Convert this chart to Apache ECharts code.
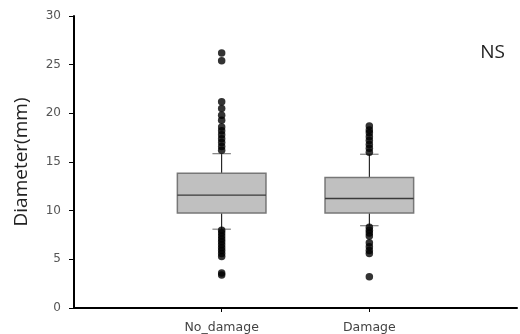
<!DOCTYPE html>
<html>
<head>
<meta charset="utf-8">
<script src="https://cdn.jsdelivr.net/npm/echarts@6/dist/echarts.min.js"></script>
<style>html,body{margin:0;padding:0;background:#fff}#c{width:520px;height:334px}</style>
</head>
<body>
<div id="c"></div>
<script>
// Categories (padding slots at both ends so groups sit at 1/3 and 2/3 of the axis)
var categories = ['', 'No_damage', 'Damage', ''];
var groups = ['No_damage', 'Damage'];
// Box statistics: [lower whisker, Q1, median, Q3, upper whisker]
var noDamageBox = [8.1, 9.75, 11.6, 13.85, 15.85];
var damageBox = [8.45, 9.75, 11.25, 13.4, 15.8];
// Outliers
var noDamageOutliers = [26.2, 25.4, 21.2, 20.5, 19.8, 19.3, 18.6, 18.2, 17.8, 17.4, 17.0, 16.6, 16.2,
  8.0, 7.7, 7.4, 7.1, 6.8, 6.5, 6.2, 5.9, 5.6, 5.3, 3.6, 3.4];
var damageOutliers = [18.7, 18.3, 18.0, 17.6, 17.2, 16.8, 16.4, 16.0,
  8.3, 8.0, 7.7, 7.4, 6.7, 6.3, 5.9, 5.6, 3.2];
var yTicks = [0, 5, 10, 15, 20, 25, 30];

var boxes = [noDamageBox, damageBox];
var outliers = [noDamageOutliers, damageOutliers];
var boxData = groups.map(function (g, i) {
  return [categories.indexOf(g)].concat(boxes[i]);
});
var outlierData = [];
groups.forEach(function (g, i) {
  outliers[i].forEach(function (v) { outlierData.push([categories.indexOf(g), v]); });
});

var chart = echarts.init(document.getElementById('c'));
chart.setOption({
  animation: false,
  backgroundColor: '#fff',
  title: {
    text: 'NS', right: 10, top: 38,
    textStyle: { fontFamily: 'Open Sans', fontSize: 19, fontWeight: 'normal', color: '#222' }
  },
  grid: { left: 74, right: 0, top: 16, bottom: 26, containLabel: false },
  xAxis: {
    type: 'category',
    data: categories,
    boundaryGap: false,
    axisLine: { lineStyle: { color: '#000', width: 2 } },
    axisTick: {
      length: 4, lineStyle: { color: '#000', width: 1 },
      interval: function (idx) { return idx === 1 || idx === 2; }
    },
    axisLabel: {
      interval: 0, margin: 13, color: '#444', fontSize: 12.5, fontFamily: 'DejaVu Sans'
    },
    splitLine: { show: false }
  },
  yAxis: {
    type: 'value',
    min: yTicks[0], max: yTicks[yTicks.length - 1], interval: 5,
    name: 'Diameter(mm)',
    nameLocation: 'middle',
    nameGap: 43,
    nameTextStyle: { fontFamily: 'Open Sans', fontSize: 19, color: '#222' },
    axisLine: { show: true, lineStyle: { color: '#000', width: 2 } },
    axisTick: { show: true, length: 5, lineStyle: { color: '#000', width: 1 } },
    axisLabel: { margin: 13, color: '#555', fontSize: 12, fontFamily: 'DejaVu Sans' },
    splitLine: { show: false }
  },
  series: [
    {
      type: 'custom',
      data: boxData,
      encode: { x: 0, y: [1, 2, 3, 4, 5] },
      z: 2,
      renderItem: function (params, api) {
        var x = api.value(0);
        var pLo = api.coord([x, api.value(1)]);
        var pQ1 = api.coord([x, api.value(2)]);
        var pMed = api.coord([x, api.value(3)]);
        var pQ3 = api.coord([x, api.value(4)]);
        var pHi = api.coord([x, api.value(5)]);
        var band = api.size([1, 0])[0];
        var bw = band * 0.6;
        var cw = band * 0.125;
        var cx = pMed[0];
        return {
          type: 'group',
          children: [
            { type: 'line', shape: { x1: cx, y1: pQ1[1], x2: cx, y2: pLo[1] }, style: { stroke: '#000', lineWidth: 1 } },
            { type: 'line', shape: { x1: cx, y1: pQ3[1], x2: cx, y2: pHi[1] }, style: { stroke: '#000', lineWidth: 1 } },
            { type: 'line', shape: { x1: cx - cw / 2, y1: pLo[1], x2: cx + cw / 2, y2: pLo[1] }, style: { stroke: '#666', lineWidth: 1 } },
            { type: 'line', shape: { x1: cx - cw / 2, y1: pHi[1], x2: cx + cw / 2, y2: pHi[1] }, style: { stroke: '#666', lineWidth: 1 } },
            { type: 'rect', shape: { x: cx - bw / 2, y: pQ3[1], width: bw, height: pQ1[1] - pQ3[1] }, style: { fill: '#c0c0c0', stroke: '#777', lineWidth: 1.5 } },
            { type: 'line', shape: { x1: cx - bw / 2, y1: pMed[1], x2: cx + bw / 2, y2: pMed[1] }, style: { stroke: '#3a3a3a', lineWidth: 1.3 } }
          ]
        };
      }
    },
    {
      type: 'scatter',
      data: outlierData,
      symbol: 'circle',
      symbolSize: 7.5,
      itemStyle: { color: '#000' },
      z: 3
    }
  ]
});
</script>
</body>
</html>
